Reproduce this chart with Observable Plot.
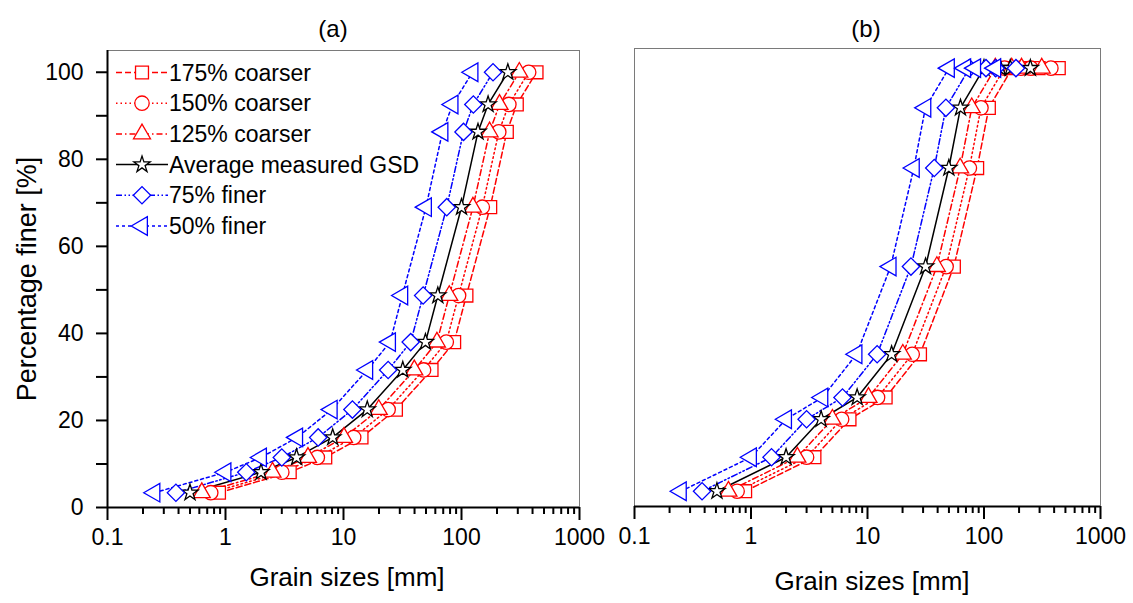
<!DOCTYPE html>
<html><head><meta charset="utf-8">
<script src="https://cdn.jsdelivr.net/npm/d3@7"></script>
<script src="https://cdn.jsdelivr.net/npm/@observablehq/plot@0.6"></script>
<style>
body{margin:0;background:#fff;}
#wrap{position:relative;width:1133px;height:603px;overflow:hidden;font-family:"Liberation Sans",Arial,sans-serif;color:#000;}
#wrap > svg, #wrap > .txt{position:absolute;}
.txt{white-space:nowrap;transform:translate(-50%,-50%);line-height:1;}
</style></head><body><div id="wrap"></div>
<script>
// ---------------- data ----------------
const seriesNames = ["175% coarser","150% coarser","125% coarser","Average measured GSD","75% finer","50% finer"];
const panelTitles = ["(a)","(b)"];
const xTickValues = [0.1, 1, 10, 100, 1000];
const yTickValues = [0,10,20,30,40,50,60,70,80,90,100];
const xLabel = "Grain sizes [mm]";
const yLabel = "Percentage finer [%]";

// panel (a): percentage finer and grain sizes [mm]
const percentA   = [3.4, 8.1, 11.5, 16.1, 22.5, 31.6, 38.0, 48.7, 69.0, 86.3, 92.6, 100];
const coarser175A = [0.88, 3.5, 7.0, 14.2, 27.8, 55.7, 86.6, 110, 175, 242, 294, 432];
const coarser150A = [0.75, 3.0, 6.0, 12.2, 23.9, 47.7, 74.3, 94.5, 150, 207, 252, 371];
const coarser125A = [0.63, 2.5, 5.0, 10.1, 19.9, 39.8, 61.9, 78.8, 125, 173, 210, 309];
const averageA    = [0.50, 2.0, 4.0, 8.1, 15.9, 31.8, 49.5, 63, 100, 138, 168, 247];
const finer75A    = [0.38, 1.5, 3.0, 6.1, 11.9, 23.9, 37.1, 47.3, 75, 104, 126, 185];
const finer50A    = [0.25, 1.0, 2.0, 4.05, 7.95, 15.9, 24.8, 31.5, 50, 69, 84, 124];

// panel (b)
const percentB   = [3.5, 11.3, 20.0, 25.0, 34.9, 55.0, 77.6, 91.4, 100.5, 100.5, 100.5, 100.5];
const coarser175B = [0.89, 3.5, 7.0, 14.3, 28.2, 55.1, 87.3, 110, 175, 242, 294, 438];
const coarser150B = [0.76, 3.0, 6.0, 12.2, 24.2, 47.3, 74.9, 94.2, 150, 207, 252, 375];
const coarser125B = [0.64, 2.5, 5.0, 10.2, 20.1, 39.4, 62.4, 78.5, 125, 173, 210, 313];
const averageB    = [0.51, 2.0, 4.0, 8.15, 16.1, 31.5, 49.9, 62.8, 100, 138, 168, 250];
const finer75B    = [0.38, 1.5, 3.0, 6.1, 12.1, 23.6, 37.4, 47.1, 75, 104, 126, 188];
const finer50B    = [0.25, 1.0, 2.0, 4.1, 8.05, 15.8, 25.0, 31.4, 50, 69, 84, 125];

// ---------------- styles ----------------
const RED = "#ff0000", BLUE = "#0000ff", BLACK = "#000000";
const styles = [
  {color: RED,   dash: "6,3",             symbol: "square",   r: 7.3, rotate: 0},
  {color: RED,   dash: "1.5,3",           symbol: "circle",   r: 7.2, rotate: 0},
  {color: RED,   dash: "6,3,1.5,3",       symbol: "triangle", r: 6.3, rotate: 0},
  {color: BLACK, dash: null,              symbol: "star",     r: 5.1, rotate: 0},
  {color: BLUE,  dash: "6,2.5,1.5,2.5,1.5,2.5", symbol: "square", r: 6.9, rotate: 45},
  {color: BLUE,  dash: "3,3",             symbol: "triangle", r: 6.9, rotate: -90}
];
const d3Symbols = {square: d3.symbolSquare, circle: d3.symbolCircle, triangle: d3.symbolTriangle, star: d3.symbolStar};

const wrap = document.getElementById("wrap");
const FONT = "'Liberation Sans', Arial, sans-serif";

function panel(sizeSeries, percent, cfg) {
  const marks = [Plot.frame({stroke: "#7a7a7a", strokeWidth: 1})];
  const minor = [];
  for (let k = 0; k < xTickValues.length - 1; k++) for (let m = 2; m <= 9; m++) minor.push(+(xTickValues[k] * m).toPrecision(3));
  marks.push(Plot.axisX(minor, {tickSize: 7, tickFormat: () => "", strokeWidth: 2, label: null}));
  marks.push(Plot.axisX(xTickValues, {tickSize: 13, tickPadding: 8, tickFormat: d => String(d), strokeWidth: 2, label: null}));
  if (cfg.yAxis) {
    marks.push(Plot.axisY(yTickValues, {tickSize: 11, tickPadding: 13, tickFormat: d => d % 20 === 0 ? String(d) : "", strokeWidth: 2, label: null}));
    marks.push(Plot.ruleX([0.1], {stroke: "#000", strokeWidth: 2}));
  }
  marks.push(Plot.ruleY([0], {stroke: "#000", strokeWidth: 2}));
  const datasets = sizeSeries.map(s => s.map((x, j) => ({x, y: percent[j]})));
  datasets.forEach((data, i) => {
    const st = styles[i];
    marks.push(Plot.line(data, {x: "x", y: "y", stroke: st.color, strokeWidth: 1.5, strokeDasharray: st.dash || undefined}));
  });
  datasets.forEach((data, i) => {
    const st = styles[i];
    marks.push(Plot.dot(data, {x: "x", y: "y", symbol: st.symbol, r: st.r, rotate: st.rotate, stroke: st.color, fill: "white", strokeWidth: 1.3}));
  });
  const svg = Plot.plot({
    width: cfg.width, height: 603,
    marginLeft: cfg.ml, marginRight: cfg.mr, marginTop: cfg.mt, marginBottom: cfg.mb,
    x: {type: "log", domain: [0.1, 1000]},
    y: cfg.yAxis ? {domain: [0, 105]} : {domain: [0, 105], axis: null},
    style: {fontFamily: FONT, fontSize: "23px", color: "#000", background: "transparent", overflow: "visible"},
    marks
  });
  svg.style.position = "absolute";
  svg.style.left = cfg.left + "px";
  svg.style.top = "0px";
  wrap.appendChild(svg);
}

panel([coarser175A, coarser150A, coarser125A, averageA, finer75A, finer50A], percentA,
  {left: 0, width: 600, ml: 107, mr: 21, mt: 50, mb: 96, yAxis: true});
panel([coarser175B, coarser150B, coarser125B, averageB, finer75B, finer50B], percentB,
  {left: 600, width: 533, ml: 34, mr: 33, mt: 48, mb: 97, yAxis: false});

// texts
function addText(str, x, y, size, rotate) {
  const d = document.createElement("div");
  d.className = "txt";
  d.textContent = str;
  d.style.left = x + "px"; d.style.top = y + "px";
  d.style.fontSize = size + "px";
  if (rotate) d.style.transform = "translate(-50%,-50%) rotate(-90deg)";
  wrap.appendChild(d);
}
addText(panelTitles[0], 333, 29, 24);
addText(panelTitles[1], 866, 29, 24);
addText(xLabel, 347, 577, 26);
addText(xLabel, 872, 581, 26);
addText(yLabel, 27, 279, 27, true);

// legend (inside panel a)
const leg = d3.select(wrap).append("svg")
  .attr("width", 600).attr("height", 260)
  .style("position", "absolute").style("left", "0px").style("top", "0px")
  .style("font-family", FONT).style("font-size", "23px");
seriesNames.forEach((name, i) => {
  const st = styles[i];
  const y = 72.5 + i * 30.7;
  const g = leg.append("g").attr("transform", `translate(0,${y})`);
  g.append("line").attr("x1", 116).attr("x2", 168).attr("y1", 0).attr("y2", 0)
    .attr("stroke", st.color).attr("stroke-width", 1.5)
    .attr("stroke-dasharray", st.dash);
  g.append("path")
    .attr("d", d3.symbol(d3Symbols[st.symbol], st.r * st.r * Math.PI)())
    .attr("transform", `translate(142,0) rotate(${st.rotate})`)
    .attr("fill", "white").attr("stroke", st.color).attr("stroke-width", 1.3);
  g.append("text").attr("x", 169).attr("y", 0).attr("dy", "0.35em").text(name);
});
</script></body></html>
